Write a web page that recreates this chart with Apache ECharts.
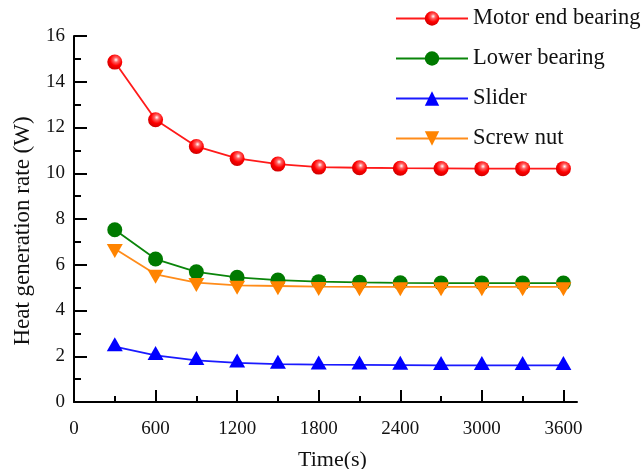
<!DOCTYPE html>
<html>
<head>
<meta charset="utf-8">
<script src="https://cdn.jsdelivr.net/npm/echarts@6/dist/echarts.min.js"></script>
<style>
html,body{margin:0;padding:0;background:#fff;}
#chart{width:644px;height:469px;}
</style>
</head>
<body>
<div id="chart"></div>
<script>
const times = [300, 600, 900, 1200, 1500, 1800, 2100, 2400, 2700, 3000, 3300, 3600];
const motorEndBearing = [14.86, 12.34, 11.17, 10.65, 10.40, 10.27, 10.24, 10.22, 10.21, 10.20, 10.20, 10.20];
const lowerBearing = [7.53, 6.25, 5.69, 5.45, 5.33, 5.26, 5.23, 5.21, 5.20, 5.20, 5.20, 5.20];
const slider = [2.42, 2.04, 1.82, 1.71, 1.66, 1.63, 1.62, 1.61, 1.60, 1.60, 1.60, 1.60];
const screwNut = [6.70, 5.58, 5.22, 5.10, 5.07, 5.04, 5.03, 5.03, 5.03, 5.03, 5.03, 5.03];
const xMajorTicks = [0, 600, 1200, 1800, 2400, 3000, 3600];
const xMinorTicks = [300, 900, 1500, 2100, 2700, 3300];
const yMinorTicks = [1, 3, 5, 7, 9, 11, 13, 15];
const seriesNames = ['Motor end bearing', 'Lower bearing', 'Slider', 'Screw nut'];

const FONT = 'Liberation Serif';
const pairs = arr => arr.map((v, i) => [times[i], v]);

const chart = echarts.init(document.getElementById('chart'), null, {renderer: 'canvas'});
const axisColor = '#000000';
const axisWidth = 2;
chart.setOption({
  backgroundColor: '#ffffff',
  animation: false,
  grid: {left: 74, right: 67, top: 36, bottom: 67, containLabel: false, outerBoundsMode: 'none'},
  legend: {
    orient: 'vertical',
    left: 395,
    top: 7,
    padding: 0,
    itemWidth: 72,
    itemHeight: 18,
    itemGap: 17,
    data: seriesNames,
    textStyle: {fontFamily: FONT, fontSize: 22.5, color: '#111', lineHeight: 22}
  },
  xAxis: [{
    type: 'value',
    position: 'bottom',
    min: 0, max: 3700,
    name: 'Time(s)',
    nameLocation: 'middle',
    nameGap: 47,
    nameTextStyle: {fontFamily: FONT, fontSize: 22, color: '#111', padding: [0, 0, 0, 14]},
    axisLine: {show: true, lineStyle: {color: axisColor, width: axisWidth}},
    axisTick: {show: true, inside: true, length: 12, customValues: xMajorTicks, lineStyle: {color: axisColor, width: axisWidth}},
    axisLabel: {show: true, customValues: xMajorTicks, margin: 18, fontFamily: FONT, fontSize: 19, color: '#111',
      formatter: v => String(v)},
    splitLine: {show: false}
  }, {
    type: 'value',
    position: 'bottom',
    offset: 0,
    min: 0, max: 3700,
    axisLine: {show: false},
    axisTick: {show: true, inside: true, length: 6, customValues: xMinorTicks, lineStyle: {color: axisColor, width: axisWidth}},
    axisLabel: {show: false},
    splitLine: {show: false}
  }],
  yAxis: [{
    type: 'value',
    position: 'left',
    min: 0, max: 16, interval: 2,
    name: 'Heat generation rate (W)',
    nameLocation: 'middle',
    nameGap: 40,
    nameRotate: 90,
    nameTextStyle: {fontFamily: FONT, fontSize: 23, color: '#111', padding: [0, 24, 0, 0]},
    axisLine: {show: true, lineStyle: {color: axisColor, width: axisWidth}},
    axisTick: {show: true, inside: true, length: 13, lineStyle: {color: axisColor, width: axisWidth}},
    axisLabel: {margin: 9, fontFamily: FONT, fontSize: 19, color: '#111'},
    splitLine: {show: false}
  }, {
    type: 'value',
    position: 'left',
    offset: 0,
    min: 0, max: 16,
    axisLine: {show: false},
    axisTick: {show: true, inside: true, length: 7, customValues: yMinorTicks, lineStyle: {color: axisColor, width: axisWidth}},
    axisLabel: {show: false},
    splitLine: {show: false}
  }],
  series: [{
    name: seriesNames[0],
    type: 'line',
    data: pairs(motorEndBearing),
    symbol: 'circle',
    symbolSize: 15,
    color: '#ff0000',
    lineStyle: {color: '#ff1a1a', width: 1.8},
    itemStyle: {
      color: {
        type: 'radial', x: 0.58, y: 0.35, r: 0.65,
        colorStops: [
          {offset: 0, color: '#ffffff'},
          {offset: 0.25, color: '#ff6060'},
          {offset: 0.6, color: '#ff0000'},
          {offset: 1, color: '#d00000'}
        ]
      }
    },
    z: 4
  }, {
    name: seriesNames[1],
    type: 'line',
    data: pairs(lowerBearing),
    symbol: 'circle',
    symbolSize: 15,
    color: '#0a7d0a',
    lineStyle: {color: '#0a850a', width: 1.8},
    itemStyle: {color: '#007a00'},
    z: 2
  }, {
    name: seriesNames[2],
    type: 'line',
    data: pairs(slider),
    symbol: 'triangle',
    symbolSize: [16, 14],
    symbolOffset: [0, '-16.7%'],
    color: '#0000ff',
    lineStyle: {color: '#1a1aff', width: 1.8},
    itemStyle: {color: '#0000ff'},
    z: 3
  }, {
    name: seriesNames[3],
    type: 'line',
    data: pairs(screwNut),
    symbol: 'triangle',
    symbolRotate: 180,
    symbolSize: [16, 14],
    symbolOffset: [0, '16.7%'],
    color: '#ff8000',
    lineStyle: {color: '#ff8c1a', width: 1.8},
    itemStyle: {color: '#ff8400'},
    z: 3
  }]
});
</script>
</body>
</html>
